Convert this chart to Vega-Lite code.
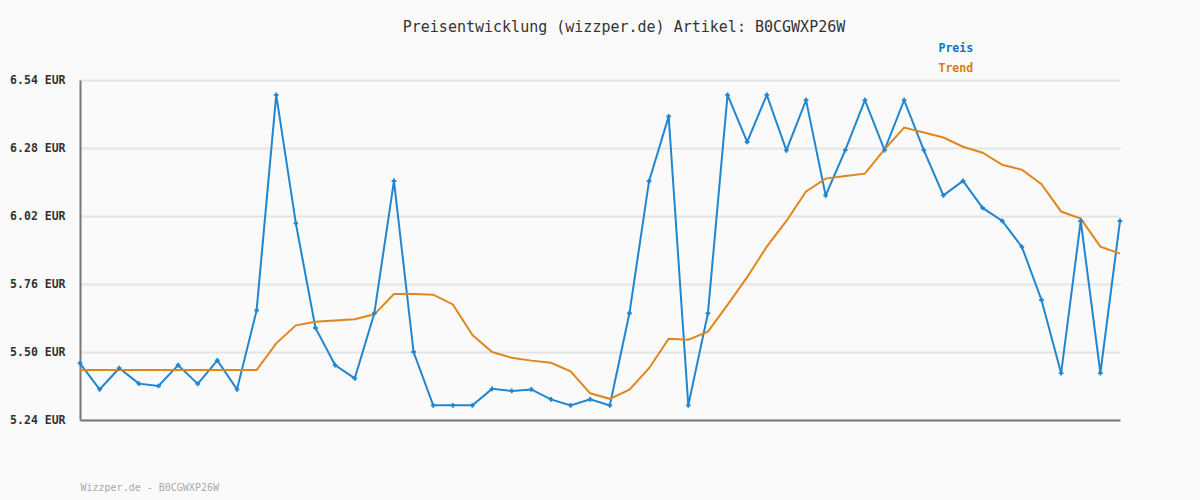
{
  "$schema": "https://vega.github.io/schema/vega-lite/v6.json",
  "width": 1040,
  "height": 340,
  "autosize": "none",
  "padding": {"left": 80, "top": 80, "right": 80, "bottom": 80},
  "background": "#fafafa",
  "title": {
    "text": "Preisentwicklung (wizzper.de) Artikel: B0CGWXP26W",
    "font": "DejaVu Sans Mono",
    "fontSize": 15,
    "fontWeight": "normal",
    "color": "#333333",
    "anchor": "middle",
    "frame": "group",
    "dx": 24,
    "dy": 12,
    "baseline": "alphabetic",
    "offset": 8
  },
  "config": {
    "view": {"stroke": null},
    "font": "DejaVu Sans Mono"
  },
  "data": {
    "values": [
      {"i": 0, "Preis": 5.457, "Trend": 5.431},
      {"i": 1, "Preis": 5.357, "Trend": 5.431},
      {"i": 2, "Preis": 5.438, "Trend": 5.431},
      {"i": 3, "Preis": 5.379, "Trend": 5.431},
      {"i": 4, "Preis": 5.370, "Trend": 5.431},
      {"i": 5, "Preis": 5.450, "Trend": 5.431},
      {"i": 6, "Preis": 5.378, "Trend": 5.431},
      {"i": 7, "Preis": 5.468, "Trend": 5.431},
      {"i": 8, "Preis": 5.357, "Trend": 5.431},
      {"i": 9, "Preis": 5.659, "Trend": 5.431},
      {"i": 10, "Preis": 6.483, "Trend": 5.533},
      {"i": 11, "Preis": 5.992, "Trend": 5.602},
      {"i": 12, "Preis": 5.592, "Trend": 5.616},
      {"i": 13, "Preis": 5.450, "Trend": 5.620},
      {"i": 14, "Preis": 5.399, "Trend": 5.625},
      {"i": 15, "Preis": 5.648, "Trend": 5.644},
      {"i": 16, "Preis": 6.154, "Trend": 5.722},
      {"i": 17, "Preis": 5.500, "Trend": 5.722},
      {"i": 18, "Preis": 5.296, "Trend": 5.719},
      {"i": 19, "Preis": 5.296, "Trend": 5.682},
      {"i": 20, "Preis": 5.296, "Trend": 5.565},
      {"i": 21, "Preis": 5.359, "Trend": 5.500},
      {"i": 22, "Preis": 5.351, "Trend": 5.478},
      {"i": 23, "Preis": 5.357, "Trend": 5.467},
      {"i": 24, "Preis": 5.319, "Trend": 5.459},
      {"i": 25, "Preis": 5.296, "Trend": 5.426},
      {"i": 26, "Preis": 5.319, "Trend": 5.342},
      {"i": 27, "Preis": 5.296, "Trend": 5.321},
      {"i": 28, "Preis": 5.648, "Trend": 5.356},
      {"i": 29, "Preis": 6.153, "Trend": 5.438},
      {"i": 30, "Preis": 6.401, "Trend": 5.551},
      {"i": 31, "Preis": 5.296, "Trend": 5.547},
      {"i": 32, "Preis": 5.648, "Trend": 5.578},
      {"i": 33, "Preis": 6.483, "Trend": 5.680},
      {"i": 34, "Preis": 6.303, "Trend": 5.786},
      {"i": 35, "Preis": 6.483, "Trend": 5.903},
      {"i": 36, "Preis": 6.271, "Trend": 6.001},
      {"i": 37, "Preis": 6.463, "Trend": 6.114},
      {"i": 38, "Preis": 6.099, "Trend": 6.163},
      {"i": 39, "Preis": 6.272, "Trend": 6.173},
      {"i": 40, "Preis": 6.463, "Trend": 6.182},
      {"i": 41, "Preis": 6.272, "Trend": 6.275},
      {"i": 42, "Preis": 6.463, "Trend": 6.358},
      {"i": 43, "Preis": 6.272, "Trend": 6.339},
      {"i": 44, "Preis": 6.099, "Trend": 6.320},
      {"i": 45, "Preis": 6.154, "Trend": 6.285},
      {"i": 46, "Preis": 6.051, "Trend": 6.262},
      {"i": 47, "Preis": 6.001, "Trend": 6.216},
      {"i": 48, "Preis": 5.902, "Trend": 6.197},
      {"i": 49, "Preis": 5.699, "Trend": 6.142},
      {"i": 50, "Preis": 5.419, "Trend": 6.037},
      {"i": 51, "Preis": 6.001, "Trend": 6.010},
      {"i": 52, "Preis": 5.419, "Trend": 5.903},
      {"i": 53, "Preis": 6.001, "Trend": 5.876}
    ]
  },
  "transform": [{"fold": ["Preis", "Trend"], "as": ["serie", "wert"]}],
  "encoding": {
    "x": {
      "field": "i",
      "type": "quantitative",
      "scale": {"domain": [0, 53], "nice": false, "zero": false},
      "axis": {
        "title": "Wizzper.de - B0CGWXP26W",
        "titleFont": "DejaVu Sans Mono",
        "titleFontSize": 10,
        "titleFontWeight": "normal",
        "titleColor": "#aaaaaa",
        "titleAnchor": "start",
        "titleAlign": "left",
        "titleBaseline": "middle",
        "titleX": 0,
        "titleY": 67,
        "labels": false,
        "ticks": false,
        "grid": false,
        "domainColor": "#777777",
        "domainWidth": 2
      }
    },
    "y": {
      "field": "wert",
      "type": "quantitative",
      "scale": {"domain": [5.24, 6.54], "nice": false, "zero": false},
      "axis": {
        "title": null,
        "values": [5.24, 5.5, 5.76, 6.02, 6.28, 6.54],
        "labelExpr": "format(datum.value, '.2f') + ' EUR'",
        "labelFont": "DejaVu Sans Mono",
        "labelFontSize": 11.5,
        "labelFontWeight": "bold",
        "labelColor": "#333333",
        "labelPadding": 15,
        "ticks": false,
        "gridColor": "#e4e4e4",
        "gridWidth": 2,
        "domainColor": "#777777",
        "domainWidth": 2
      }
    },
    "color": {
      "field": "serie",
      "type": "nominal",
      "scale": {"domain": ["Preis", "Trend"], "range": ["#1f86cf", "#e0861e"]},
      "legend": {
        "title": null,
        "orient": "none",
        "legendX": 847,
        "legendY": -37,
        "symbolSize": 0,
        "symbolOpacity": 0,
        "symbolStrokeWidth": 0,
        "labelOffset": 0,
        "labelFont": "DejaVu Sans Mono",
        "labelFontSize": 11.5,
        "labelFontWeight": "bold",
        "labelColor": {"expr": "datum.label == 'Preis' ? '#0b75c6' : '#d97a0a'"},
        "rowPadding": 7
      }
    }
  },
  "layer": [
    {"mark": {"type": "line", "strokeWidth": 2}},
    {
      "transform": [{"filter": "datum.serie == 'Preis'"}],
      "mark": {"type": "point", "shape": "cross", "filled": true, "size": 22, "opacity": 1}
    }
  ]
}
